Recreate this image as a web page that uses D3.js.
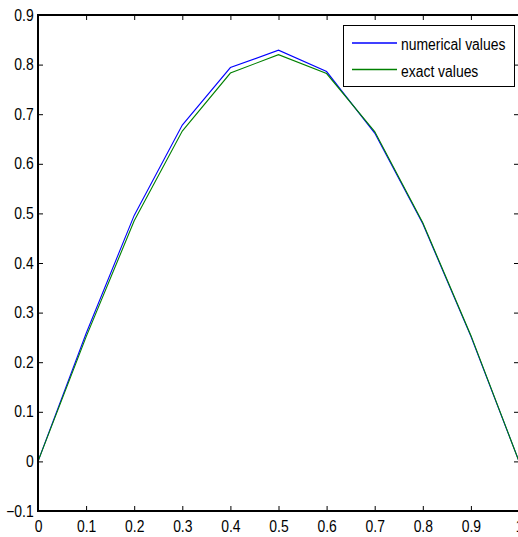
<!DOCTYPE html>
<html>
<head>
<meta charset="utf-8">
<script src="https://cdn.jsdelivr.net/npm/d3@7"></script>
<style>
	body { margin: 0; background: #fff; }
	svg { display: block; }
	text { font-family: "Liberation Sans", Arial, sans-serif; font-size: 16px; fill: #000; }
</style>
</head>
<body>
<script>
//------------------------------------------------------------------------------
// Data

var xs        = [0, 0.1, 0.2, 0.3, 0.4, 0.5, 0.6, 0.7, 0.8, 0.9, 1.0];
var numerical = [0, 0.258, 0.496, 0.678, 0.794, 0.829, 0.786, 0.662, 0.479, 0.252, 0];
var exact     = [0, 0.251, 0.485, 0.666, 0.783, 0.820, 0.782, 0.665, 0.481, 0.254, 0];

var xTicks = [0, 0.1, 0.2, 0.3, 0.4, 0.5, 0.6, 0.7, 0.8, 0.9, 1];
var yTicks = [-0.1, 0, 0.1, 0.2, 0.3, 0.4, 0.5, 0.6, 0.7, 0.8, 0.9];

var series = [
	{ name: 'numerical values', values: numerical, color: '#0000ff' },
	{ name: 'exact values',     values: exact,     color: '#008000' }
];

//------------------------------------------------------------------------------
// Frame

var W = 518, H = 537;
var L = 38, R = 519, T = 15, B = 511;
var SQUEEZE = 'scale(0.87,1)';	// narrow, matlab-like glyphs

var x = d3.scaleLinear().domain([0, 1]).range([L, R]);
var y = d3.scaleLinear().domain([-0.1, 0.9]).range([B, T]);

var svg = d3.select('body').append('svg')
	.attr('width', W)
	.attr('height', H);

function fmt(d) { return d3.format('.1f')(d).replace(/^0\.0$/, '0').replace(/^1\.0$/, '1'); }

function axis(g) {
	g.select('.domain').remove();
	g.selectAll('.tick line').attr('stroke', '#000');
}

svg.append('g')
	.attr('transform', 'translate(0,' + B + ')')
	.call(d3.axisBottom(x).tickValues(xTicks).tickSize(-5).tickPadding(10).tickFormat(fmt))
	.call(axis);

svg.append('g')
	.attr('transform', 'translate(0,' + T + ')')
	.call(d3.axisTop(x).tickValues(xTicks).tickSize(-5).tickFormat(''))
	.call(axis);

svg.append('g')
	.attr('transform', 'translate(' + L + ',0)')
	.call(d3.axisLeft(y).tickValues(yTicks).tickSize(-5).tickPadding(5).tickFormat(fmt))
	.call(axis);

svg.append('g')
	.attr('transform', 'translate(' + R + ',0)')
	.call(d3.axisRight(y).tickValues(yTicks).tickSize(-5).tickFormat(''))
	.call(axis);

svg.selectAll('.tick text')
	.attr('font-family', null)
	.attr('font-size', null)
	.attr('fill', '#000')
	.attr('transform', SQUEEZE);

//------------------------------------------------------------------------------
// Lines

var line = d3.line()
	.x(function (d, i) { return x(xs[i]); })
	.y(function (d) { return y(d); });

svg.append('g').selectAll('path')
	.data(series)
	.enter().append('path')
	.attr('d', function (d) { return line(d.values); })
	.attr('fill', 'none')
	.attr('stroke', function (d) { return d.color; })
	.attr('stroke-width', 1.1);

svg.append('rect')
	.attr('x', L).attr('y', T)
	.attr('width', R - L).attr('height', B - T)
	.attr('fill', 'none')
	.attr('stroke', '#000')
	.attr('stroke-width', 2);

//------------------------------------------------------------------------------
// Legend

var legend = svg.append('g').attr('transform', 'translate(343,25)');

legend.append('rect')
	.attr('x', 0.5).attr('y', 0.5)
	.attr('width', 171).attr('height', 61)
	.attr('fill', '#fff')
	.attr('stroke', '#000');

var item = legend.selectAll('.item')
	.data(series)
	.enter().append('g')
	.attr('class', 'item')
	.attr('transform', function (d, i) { return 'translate(0,' + (18 + i * 26.5) + ')'; });

item.append('line')
	.attr('x1', 9).attr('x2', 54)
	.attr('stroke', function (d) { return d.color; })
	.attr('stroke-width', 1.3);

item.append('g')
	.attr('transform', 'translate(58,7) ' + SQUEEZE)
	.append('text')
	.text(function (d) { return d.name; });

</script>
</body>
</html>
